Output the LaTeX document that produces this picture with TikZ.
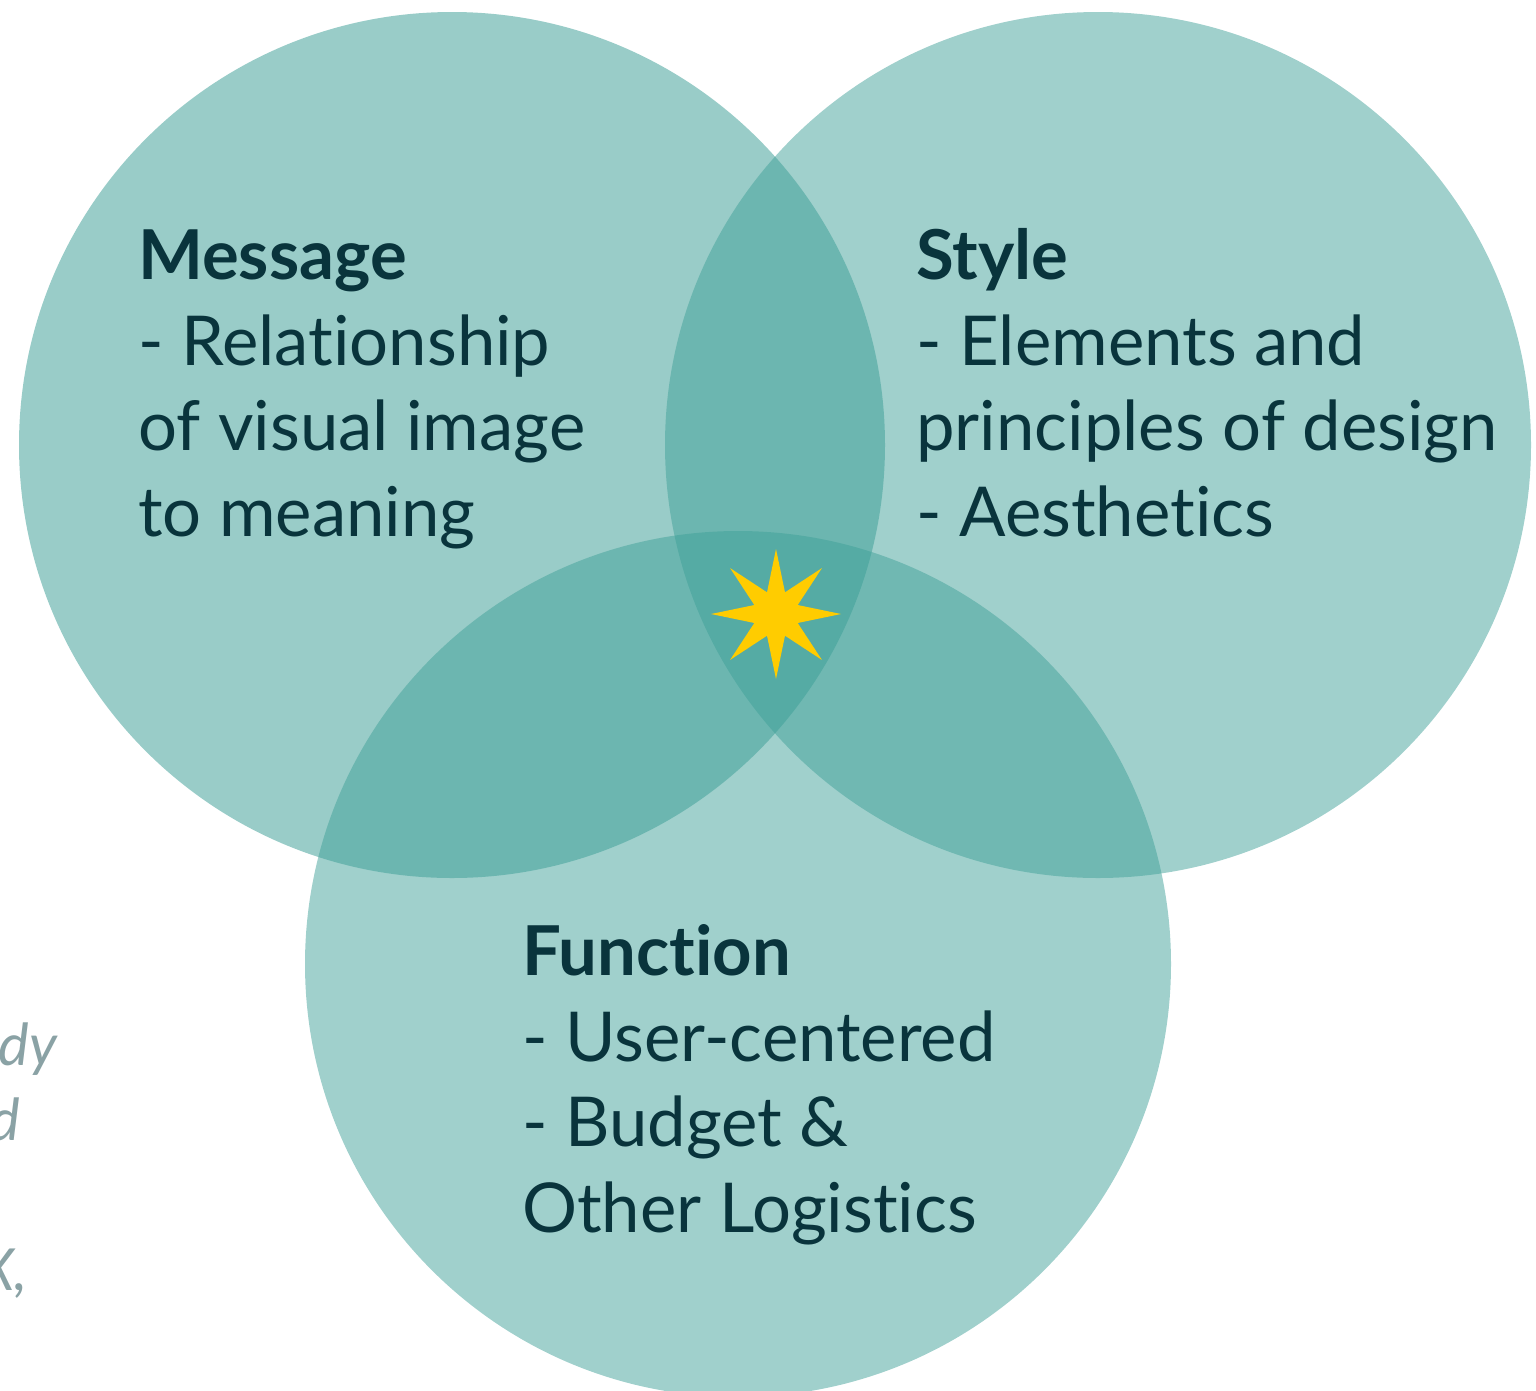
\documentclass[tikz,border=0pt]{standalone}
\usepackage{fontspec}
\setmainfont{Lato}[Ligatures=NoCommon]
\usetikzlibrary{shapes.geometric}
\definecolor{msgc}{RGB}{51,153,145}
\definecolor{tealc}{RGB}{65,161,153}
\definecolor{textc}{RGB}{9,52,60}
\definecolor{grayc}{RGB}{138,162,165}
\definecolor{starc}{RGB}{255,204,0}
\tikzset{
  venn/.style={circle, minimum size=866pt, inner sep=0pt, fill opacity=0.5, draw=none},
  label/.style={anchor=base west, align=left, inner sep=0pt, text=textc,
    font=\fontsize{68.8}{85.5}\selectfont},
  side/.style={anchor=base east, inner sep=0pt, text=grayc,
    font=\fontsize{58}{75}\selectfont\itshape}
}
\begin{document}
\begin{tikzpicture}[x=1pt,y=-1pt]
\useasboundingbox (0,0) rectangle (1536,1390);
\node[venn, fill=msgc] (message) at (452,445) {};
\node[venn, fill=tealc] (style) at (1098,445) {};
\node[venn, fill=tealc] (function) at (738,964) {};
\node[star, star points=8, star point ratio=2.77, minimum size=130pt, inner sep=0pt, fill=starc] (star) at (776,614) {};
\node[label] (msgtext) at (138,536) {\textbf{Message}\\- Relationship\\of visual image\\to meaning};
\node[label] (styletext) at (916,536) {\textbf{Style}\\- Elements and\\principles of design\\- Aesthetics};
\node[label] (functext) at (522,1232) {\textbf{Function}\\- User-centered\\- Budget \&\\Other Logistics};
\node[side] (g1) at (57,1065) {udy};
\node[side] (g2) at (20,1140) {d};
\node[side] (g3) at (28,1290) {X,};
\end{tikzpicture}
\end{document}
